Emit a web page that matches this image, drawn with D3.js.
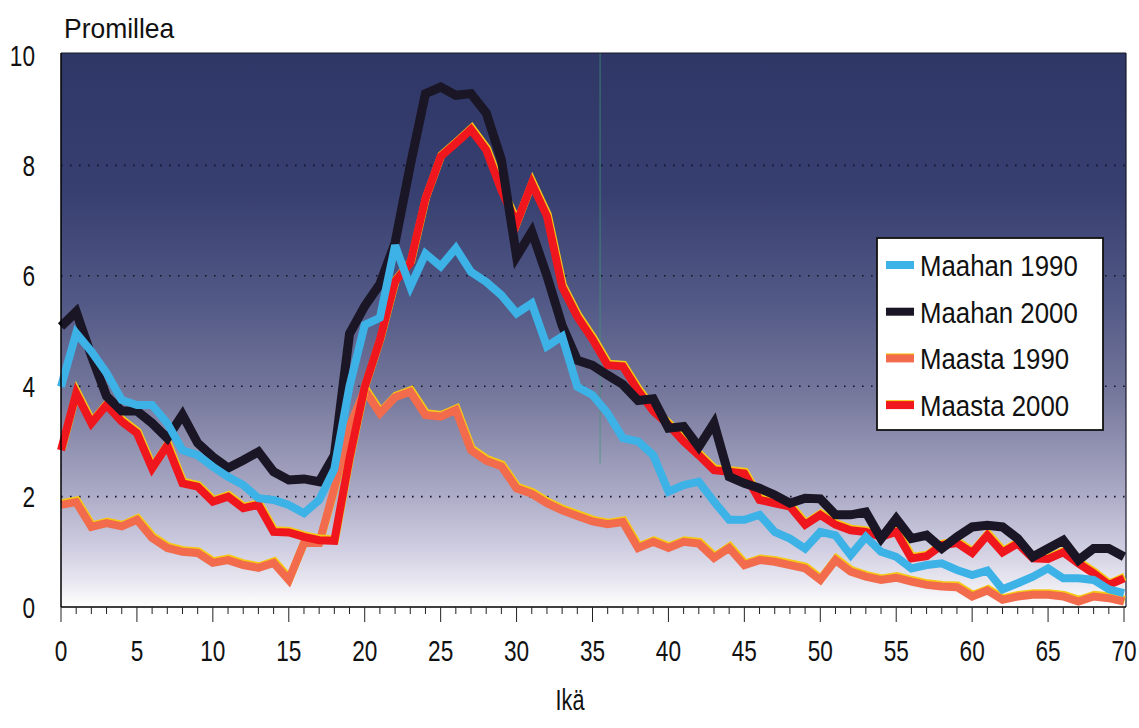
<!DOCTYPE html>
<html><head><meta charset="utf-8">
<script src="https://cdn.jsdelivr.net/npm/d3@7"></script>
<style>
html,body{margin:0;padding:0;background:#fff;}
svg text{font-family:"Liberation Sans",Arial,sans-serif;fill:#111;}
</style></head>
<body>
<svg id="c" width="1139" height="728"></svg>
<script>
const ages = d3.range(0, 71);
const maahan1990 = [3.99,4.96,4.63,4.24,3.75,3.66,3.66,3.33,2.84,2.75,2.54,2.36,2.21,1.97,1.94,1.85,1.70,1.94,2.5,4.0,5.11,5.24,6.55,5.8,6.4,6.17,6.5,6.07,5.89,5.65,5.32,5.5,4.72,4.9,3.99,3.84,3.51,3.06,3.0,2.75,2.09,2.21,2.27,1.91,1.58,1.58,1.67,1.36,1.24,1.06,1.36,1.3,0.94,1.27,1.0,0.91,0.70,0.76,0.79,0.67,0.58,0.66,0.32,0.43,0.55,0.70,0.52,0.52,0.49,0.32,0.25];
const maahan2000 = [5.08,5.35,4.55,3.82,3.55,3.55,3.33,3.06,3.48,2.97,2.72,2.52,2.66,2.81,2.45,2.30,2.32,2.27,2.75,4.95,5.45,5.85,6.6,8.0,9.3,9.42,9.27,9.3,8.95,8.1,6.35,6.8,6.0,5.1,4.47,4.38,4.2,4.03,3.74,3.77,3.24,3.27,2.9,3.33,2.36,2.24,2.15,2.03,1.88,1.97,1.96,1.67,1.67,1.72,1.24,1.6,1.24,1.30,1.06,1.27,1.45,1.48,1.45,1.24,0.91,1.06,1.21,0.85,1.06,1.06,0.91];
const maasta1990 = [1.85,1.9,1.45,1.52,1.46,1.58,1.25,1.07,1.0,0.98,0.80,0.85,0.76,0.71,0.8,0.49,1.16,1.16,2.15,3.25,3.93,3.51,3.8,3.9,3.48,3.45,3.57,2.84,2.65,2.55,2.15,2.05,1.88,1.75,1.65,1.55,1.5,1.54,1.07,1.18,1.07,1.18,1.15,0.89,1.07,0.76,0.85,0.82,0.76,0.7,0.49,0.85,0.64,0.55,0.49,0.53,0.46,0.40,0.37,0.36,0.19,0.30,0.13,0.19,0.22,0.22,0.19,0.10,0.19,0.16,0.10];
const maasta2000 = [2.84,3.87,3.33,3.66,3.36,3.15,2.51,2.93,2.24,2.18,1.91,2.0,1.79,1.85,1.36,1.35,1.27,1.21,1.2,2.7,3.99,4.84,5.9,6.23,7.4,8.16,8.4,8.65,8.28,7.55,6.95,7.67,7.08,5.8,5.26,4.85,4.38,4.36,3.92,3.55,3.3,3.0,2.75,2.48,2.45,2.42,1.94,1.88,1.82,1.49,1.67,1.49,1.39,1.36,1.27,1.36,0.88,0.92,1.12,1.16,0.98,1.30,0.99,1.15,0.88,0.87,0.99,0.79,0.61,0.40,0.52];
const seriesNames = ["Maahan 1990","Maahan 2000","Maasta 1990","Maasta 2000"];
const yTicks = [0,2,4,6,8,10];
const xTicks = d3.range(0, 71, 5);
const yLabel = "Promillea";
const xLabel = "Ikä";

const colors = {"Maahan 1990":"#3cb2e6","Maahan 2000":"#1b1626","Maasta 1990":"#f26b4c","Maasta 2000":"#f0161e"};
const widths = {"Maahan 1990":8,"Maahan 2000":9,"Maasta 1990":8,"Maasta 2000":8};
const valuesBy = {"Maahan 1990":maahan1990,"Maahan 2000":maahan2000,"Maasta 1990":maasta1990,"Maasta 2000":maasta2000};

const svg = d3.select("#c");
const x = d3.scaleLinear().domain([0,70]).range([61,1124]);
const y = d3.scaleLinear().domain([0,10]).range([607,55]);
const pLeft = 61, pRight = 1126, pTop = 53, pBottom = 607;

function ctext(parent, tx, ty, str, size, sx, anchor){
  return parent.append("text")
    .attr("transform",`translate(${tx},${ty}) scale(${sx},1)`)
    .attr("text-anchor",anchor||"start").attr("font-size",size).text(str);
}

const defs = svg.append("defs");
const g = defs.append("linearGradient").attr("id","bg").attr("x1",0).attr("y1",0).attr("x2",0).attr("y2",1);
[[0,"#2f3767"],[0.25,"#373f70"],[0.45,"#525986"],[0.62,"#76789c"],[0.78,"#a6a5c2"],[0.9,"#d1cfe2"],[0.97,"#efeef4"],[1,"#ffffff"]]
  .forEach(([o,c])=>g.append("stop").attr("offset",o).attr("stop-color",c));
svg.append("rect").attr("x",pLeft).attr("y",pTop).attr("width",pRight-pLeft).attr("height",pBottom-pTop-1).attr("fill","url(#bg)");

svg.append("g").selectAll("line").data([2,4,6,8]).join("line")
  .attr("x1",pLeft).attr("x2",pRight).attr("y1",d=>y(d)).attr("y2",d=>y(d))
  .attr("stroke","#15172a").attr("stroke-width",1.6).attr("stroke-dasharray","1.6,7.4");

svg.append("line").attr("x1",x(35.5)).attr("x2",x(35.5)).attr("y1",pTop).attr("y2",y(2.6))
  .attr("stroke","#3f9a78").attr("stroke-width",1).attr("opacity",0.7);

svg.append("line").attr("x1",pLeft).attr("x2",pRight).attr("y1",pTop).attr("y2",pTop).attr("stroke","#1a1a2a").attr("stroke-width",1.2);
svg.append("line").attr("x1",pRight).attr("x2",pRight).attr("y1",pTop).attr("y2",pBottom).attr("stroke","#1a1a2a").attr("stroke-width",1.2);

const line = d3.line().x((d,i)=>x(ages[i])).y(d=>y(d));
const order = ["Maasta 1990","Maasta 2000","Maahan 2000","Maahan 1990"];
const lg = svg.append("g");
order.forEach(name=>{
  if(name.startsWith("Maasta")){
    lg.append("path").datum(valuesBy[name]).attr("d",line).attr("fill","none")
      .attr("stroke","#f5c816").attr("stroke-width",widths[name]).attr("stroke-linejoin","miter").attr("stroke-miterlimit",3)
      .attr("transform","translate(0.8,-1.6)");
  }
  lg.append("path").datum(valuesBy[name]).attr("d",line).attr("fill","none")
    .attr("stroke",colors[name]).attr("stroke-width",widths[name]).attr("stroke-linejoin","miter").attr("stroke-miterlimit",3);
});

svg.append("line").attr("x1",pLeft).attr("x2",pLeft).attr("y1",pTop).attr("y2",pBottom).attr("stroke","#000").attr("stroke-width",1.5);
svg.append("line").attr("x1",pLeft).attr("x2",pRight).attr("y1",pBottom).attr("y2",pBottom).attr("stroke","#000").attr("stroke-width",1.5);
svg.append("g").selectAll("line").data(ages).join("line")
  .attr("x1",d=>x(d)).attr("x2",d=>x(d)).attr("y1",pBottom).attr("y2",d=>d%5===0?pBottom+15:pBottom+7)
  .attr("stroke","#222").attr("stroke-width",1);
const xt = svg.append("g");
xTicks.forEach(d=>ctext(xt, x(d), 661, d, 29, 0.78, "middle"));
const yt = svg.append("g");
yTicks.forEach(d=>ctext(yt, 35, y(d)+10.5, d, 29, 0.78, "end"));
ctext(svg, 64, 38, yLabel, 27, 0.98, "start");
ctext(svg, 570, 710, xLabel, 30, 0.72, "middle");

const leg = svg.append("g");
leg.append("rect").attr("x",877).attr("y",238).attr("width",226).attr("height",192)
  .attr("fill","#fff").attr("stroke","#111").attr("stroke-width",1.8);
seriesNames.forEach((name,i)=>{
  const cy = 265 + i*46.7;
  if(name.startsWith("Maasta")){
    leg.append("rect").attr("x",886).attr("y",cy-5).attr("width",28).attr("height",8).attr("fill","#f5c816");
  }
  leg.append("rect").attr("x",886).attr("y",cy-4).attr("width",28).attr("height",8).attr("fill",colors[name]);
  ctext(leg, 920, cy+11, name, 30, 0.86, "start");
});
</script>
</body></html>
